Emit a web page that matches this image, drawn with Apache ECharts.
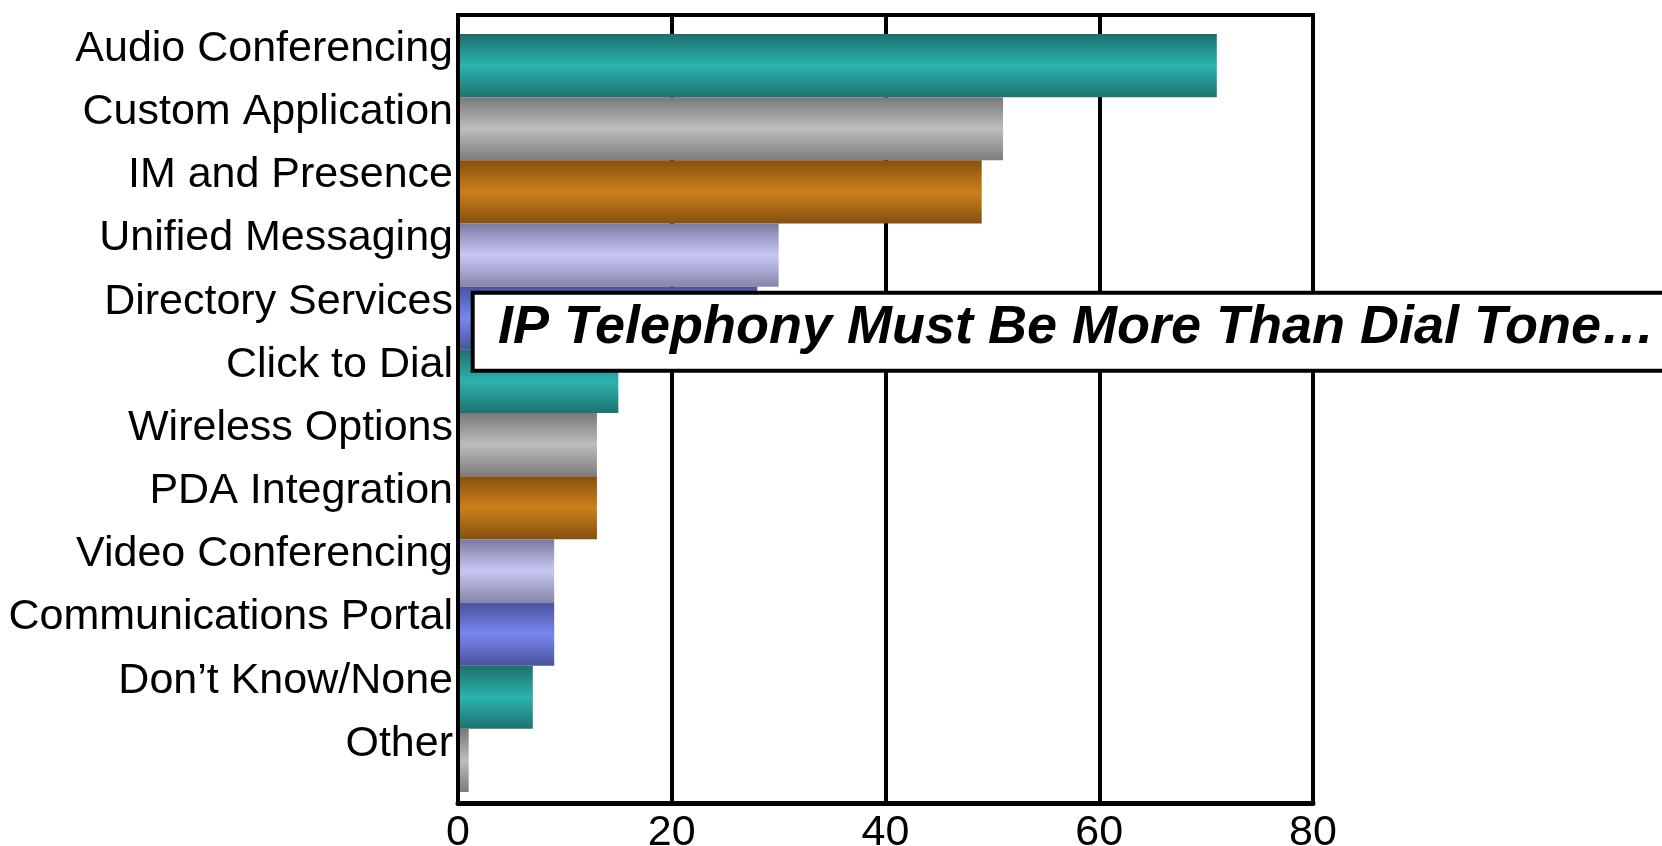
<!DOCTYPE html>
<html>
<head>
<meta charset="utf-8">
<script src="https://cdn.jsdelivr.net/npm/echarts@6/dist/echarts.min.js"></script>
<style>
html,body{margin:0;padding:0;background:#fff;}
#chart{width:1662px;height:846px;}
</style>
</head>
<body>
<div id="chart"></div>
<script>
const categories = ["Audio Conferencing","Custom Application","IM and Presence","Unified Messaging","Directory Services","Click to Dial","Wireless Options","PDA Integration","Video Conferencing","Communications Portal","Don\u2019t Know/None","Other"];
const values = [71, 51, 49, 30, 28, 15, 13, 13, 9, 9, 7, 1];
const xTicks = [0, 20, 40, 60, 80];
const titleText = "IP Telephony Must Be More Than Dial Tone\u2026";

const palette = [
  ["#1f6f6c", "#2bb3af", "#1f726f"],
  ["#787878", "#bdbdbd", "#7c7c7c"],
  ["#86500f", "#cc801a", "#845010"],
  ["#7a7aa0", "#c8c8f6", "#8585a8"],
  ["#4a539c", "#7787f0", "#4a539c"]
];
function grad(i){
  const c = palette[i % palette.length];
  return new echarts.graphic.LinearGradient(0,0,0,1,[
    {offset:0,color:c[0]},{offset:0.5,color:c[1]},{offset:1,color:c[2]}
  ]);
}
const FONT = "'Liberation Sans', Arial, sans-serif";

const chart = echarts.init(document.getElementById('chart'), null, {renderer:'canvas'});
chart.setOption({
  animation:false,
  backgroundColor:'#ffffff',
  grid:[
    {left:458, right:349, top:34, bottom:54, containLabel:false, outerBoundsMode:'none'},
    {left:458, right:349, top:15, bottom:43, containLabel:false, outerBoundsMode:'none',
     show:true, borderColor:'#000', borderWidth:4, backgroundColor:'transparent'}
  ],
  xAxis:[
    {type:'value', gridIndex:0, min:0, max:80, interval:20, show:false},
    {type:'value', gridIndex:1, min:xTicks[0], max:xTicks[xTicks.length-1], interval:20,
     axisLine:{show:true, onZero:false, lineStyle:{color:'#000', width:5}},
     axisTick:{show:false},
     splitLine:{show:true, lineStyle:{color:'#000', width:4}},
     axisLabel:{color:'#000', fontSize:43, fontFamily:FONT, margin:9}
    }
  ],
  yAxis:[
    {type:'category', gridIndex:0, data:categories, inverse:true,
     axisLine:{show:false}, axisTick:{show:false}, splitLine:{show:false},
     axisLabel:{margin:5,
       formatter: v => '{a|' + v + '}\n{g| }',
       rich:{
         a:{color:'#000', fontSize:43, fontFamily:FONT, lineHeight:44, align:'right'},
         g:{fontSize:1, lineHeight:33}
       }
     }
    },
    {type:'value', gridIndex:1, min:0, max:1, z:10,
     axisLine:{show:true, onZero:false, lineStyle:{color:'#000', width:4}},
     axisTick:{show:false}, axisLabel:{show:false}, splitLine:{show:false}
    }
  ],
  series:[{
    type:'bar', xAxisIndex:0, yAxisIndex:0,
    barCategoryGap:'0%',
    data: values.map((v,i)=>({value:v, itemStyle:{color:grad(i)}}))
  }],
  graphic:[
    {type:'rect', z:100, shape:{x:472.7, y:292.7, width:1300, height:78},
     style:{fill:'#fff', stroke:'#000', lineWidth:4}},
    {type:'text', z:101, x:498, y:328,
     style:{text:titleText, fill:'#000', font:"italic bold 54px 'Liberation Sans', Arial, sans-serif",
            textAlign:'left', textVerticalAlign:'middle'}}
  ]
});
</script>
</body>
</html>
